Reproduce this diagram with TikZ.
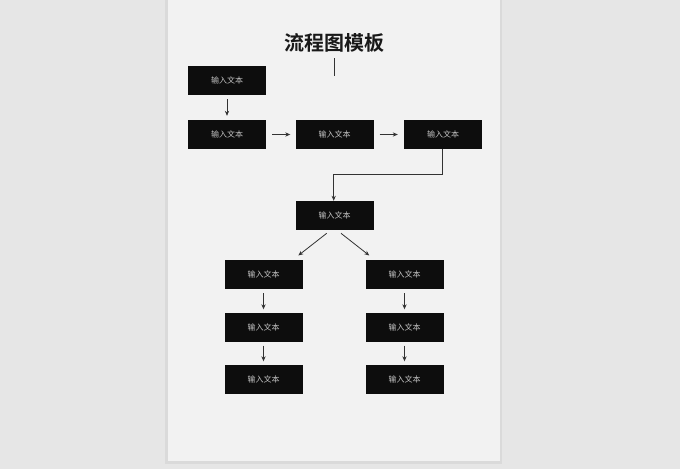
\documentclass[tikz,border=0pt]{standalone}
\usepackage{fontspec}
\newfontfamily\cjk{Noto Sans CJK SC}
\newfontfamily\cjkb{Noto Sans CJK SC Bold}
\usetikzlibrary{arrows.meta}
\definecolor{bgc}{HTML}{E6E6E6}
\definecolor{pagec}{HTML}{F2F2F2}
\definecolor{shadowc}{HTML}{DADADA}
\definecolor{boxc}{HTML}{0D0D0D}
\definecolor{txtc}{HTML}{C4C4C4}
\definecolor{linec}{HTML}{333333}
\tikzset{
  flowbox/.style={fill=boxc, draw=none, minimum width=78pt, minimum height=29pt, inner sep=0pt,
    text=txtc, font=\cjk\fontsize{8}{9}\selectfont},
  conn/.style={draw=linec, line width=0.8pt, -{Stealth[length=5pt,width=4.2pt]}},
}
\begin{document}
\begin{tikzpicture}[x=1pt,y=-1pt]
\fill[bgc] (0,0) rectangle (680,469);
\useasboundingbox (0,0) rectangle (680,469);
\fill[shadowc] (165,0) rectangle (502,464);
\fill[pagec] (168,0) rectangle (500,461);
\node[font=\cjkb\fontsize{20}{22}\selectfont, text=black!90] (title) at (334,42.5) {流程图模板};
\coordinate (t1) at (334,58);
\coordinate (t2) at (334,76);
\draw[linec, line width=0.9pt] (t1) -- (t2);
\node[flowbox] (a) at (227,80.5) {输入文本};
\node[flowbox] (b) at (227,134.5) {输入文本};
\node[flowbox] (c) at (334.5,134.5) {输入文本};
\node[flowbox] (d) at (443,134.5) {输入文本};
\node[flowbox] (e) at (334.5,215.5) {输入文本};
\node[flowbox] (f) at (263.5,274.5) {输入文本};
\node[flowbox] (g) at (404.5,274.5) {输入文本};
\node[flowbox] (h) at (263.5,327) {输入文本};
\node[flowbox] (i) at (404.5,327) {输入文本};
\node[flowbox] (j) at (263.5,379) {输入文本};
\node[flowbox] (k) at (404.5,379) {输入文本};
\draw[conn] ([yshift=-4pt]a.south) -- ([yshift=4pt]b.north);
\draw[conn] ([xshift=6pt]b.east) -- ([xshift=-5pt]c.west);
\draw[conn] ([xshift=6pt]c.east) -- ([xshift=-6pt]d.west);
\coordinate (k1) at (442.3,174.7);
\coordinate (k2) at (333.7,174.7);
\draw[conn] (d.south -| k1) -- (k1) -- (k2) -- (e.north -| k2);
\coordinate (el) at (326.7,233.3);
\coordinate (er) at (341,233.3);
\coordinate (fl) at (298.3,255.5);
\coordinate (gr) at (369.3,255.5);
\draw[conn] (el) -- (fl);
\draw[conn] (er) -- (gr);
\draw[conn] ([yshift=-4pt]f.south) -- ([yshift=3pt]h.north);
\draw[conn] ([yshift=-4pt]g.south) -- ([yshift=3pt]i.north);
\draw[conn] ([yshift=-4pt]h.south) -- ([yshift=3pt]j.north);
\draw[conn] ([yshift=-4pt]i.south) -- ([yshift=3pt]k.north);
\end{tikzpicture}
\end{document}
